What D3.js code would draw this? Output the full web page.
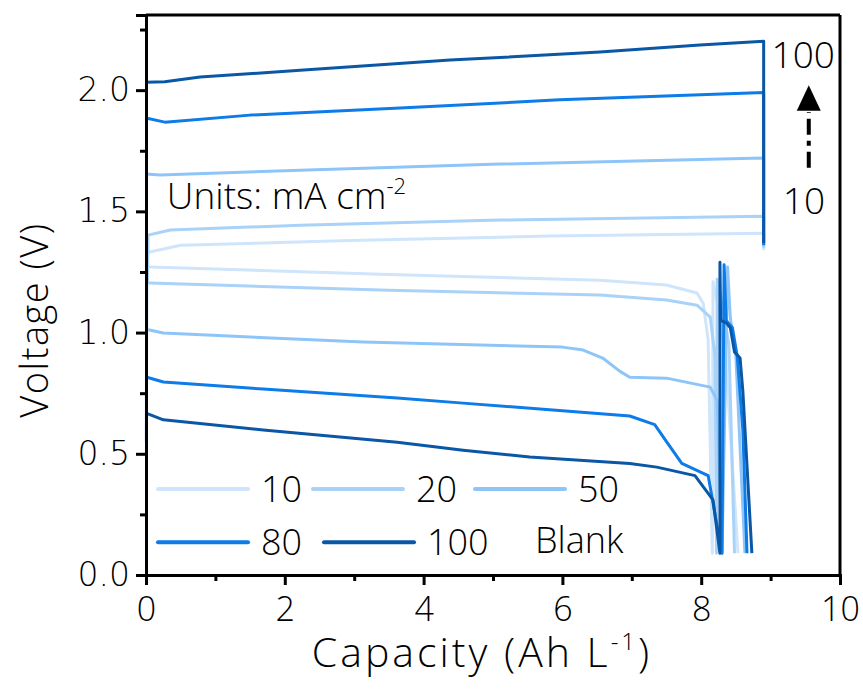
<!DOCTYPE html>
<html>
<head>
<meta charset="utf-8">
<script src="https://cdn.jsdelivr.net/npm/d3@7"></script>
<style>
  body { margin: 0; background: #fff; }
  .lbl { font-family: "Open Sans", "Noto Sans", sans-serif; font-weight: 300; }
  .ytick text { font-family: "DejaVu Sans", sans-serif; font-weight: 200; }
</style>
</head>
<body>
<div id="chart"></div>
<script>
// current densities (mA cm-2)
var seriesNames = ["10", "20", "50", "80", "100"];
var seriesColors = ["#cfe5fb", "#a9d2f8", "#8ec5f8", "#0d7be8", "#0a57a6"];

// charge curves [capacity, voltage]
var charge10 = [[0, 0.55], [0.02, 1.33], [0.5, 1.36], [2.94, 1.38], [5.82, 1.398], [8.9, 1.41], [8.9, 1.34]];
var charge20 = [[0.02, 1.20], [0.03, 1.402], [0.35, 1.423], [2.22, 1.443], [5.1, 1.464], [8.9, 1.48], [8.9, 1.35]];
var charge50 = [[0, 1.654], [0.2, 1.65], [2.22, 1.67], [5.1, 1.695], [8.9, 1.72], [8.9, 1.36]];
var charge80 = [[0, 1.885], [0.27, 1.868], [1.5, 1.897], [3.66, 1.926], [5.96, 1.96], [8.9, 1.99], [8.9, 1.36]];
var charge100 = [[0, 2.033], [0.27, 2.035], [0.78, 2.054], [2.22, 2.082], [4.38, 2.124], [6.54, 2.157], [7.98, 2.186], [8.9, 2.202], [8.9, 1.37]];

// discharge curves [capacity, voltage]
var discharge10 = [[0, 1.27], [0.06, 1.27], [3.5, 1.24], [6.54, 1.216], [7.5, 1.196], [7.94, 1.163], [8.03, 1.12], [8.1, 0.97], [8.16, 0.09],
  [8.17, 1.21], [8.25, 1.1], [8.35, 0.9], [8.53, 0.09]];
var discharge20 = [[0, 1.21], [0.06, 1.204], [3.5, 1.175], [6.54, 1.155], [7.5, 1.134], [7.94, 1.113], [8.13, 1.064], [8.2, 0.9], [8.22, 0.09],
  [8.23, 1.22], [8.3, 1.12], [8.4, 0.95], [8.48, 0.09]];
var discharge50 = [[0, 1.014], [0.25, 0.998], [3.13, 0.961], [6.0, 0.94], [6.3, 0.928], [6.58, 0.895], [6.83, 0.84], [6.97, 0.816], [7.5, 0.812],
  [8.13, 0.775], [8.23, 0.72], [8.3, 0.09], [8.38, 1.27], [8.42, 1.06], [8.5, 0.9], [8.63, 0.09]];
var discharge80 = [[0, 0.817], [0.25, 0.796], [1.69, 0.767], [3.62, 0.73], [4.57, 0.709], [6.97, 0.656], [7.33, 0.62], [7.5, 0.55], [7.72, 0.46],
  [8.1, 0.41], [8.3, 0.09], [8.33, 1.28], [8.36, 1.05], [8.45, 1.02], [8.52, 0.9], [8.6, 0.6], [8.66, 0.09]];
var discharge100 = [[0, 0.668], [0.25, 0.64], [1.69, 0.598], [3.62, 0.548], [4.57, 0.515], [5.53, 0.487], [6.97, 0.46], [7.36, 0.445], [7.91, 0.41],
  [8.17, 0.31], [8.27, 0.09], [8.27, 1.29], [8.28, 1.05], [8.36, 1.04], [8.42, 1.02], [8.48, 0.92], [8.56, 0.895], [8.6, 0.76], [8.73, 0.09]];

var chargeData = [charge10, charge20, charge50, charge80, charge100];
var dischargeData = [discharge10, discharge20, discharge50, discharge80, discharge100];

var xMajor = [0, 2, 4, 6, 8, 10];
var xMinor = [1, 3, 5, 7, 9];
var yMajor = [0, 0.5, 1.0, 1.5, 2.0];
var yMinor = [0.25, 0.75, 1.25, 1.75, 2.25];

var svgWidth = 863;
var svgHeight = 693;

var margin = { top: 15, right: 23, bottom: 118, left: 146 };
var width = svgWidth - margin.left - margin.right;
var height = svgHeight - margin.top - margin.bottom;

var svg = d3.select("#chart")
  .append("svg")
  .attr("width", svgWidth)
  .attr("height", svgHeight);

var chartGroup = svg.append("g")
  .attr("transform", `translate(${margin.left}, ${margin.top})`);

var xScale = d3.scaleLinear().domain([0, 10]).range([0, width]);
var yScale = d3.scaleLinear().domain([0, 2.31]).range([height, 0]);

var line = d3.line()
  .x(d => xScale(d[0]))
  .y(d => yScale(d[1]));

// curves
dischargeData.forEach(function(data, i) {
  chartGroup.append("path")
    .datum(data)
    .attr("d", line)
    .attr("fill", "none")
    .attr("stroke", seriesColors[i])
    .attr("stroke-width", 3)
    .attr("stroke-linejoin", "round");
});
chargeData.forEach(function(data, i) {
  chartGroup.append("path")
    .datum(data)
    .attr("d", line)
    .attr("fill", "none")
    .attr("stroke", seriesColors[i])
    .attr("stroke-width", 3)
    .attr("stroke-linejoin", "round");
});

// frame top & right
chartGroup.append("line")
  .attr("x1", 0).attr("x2", width).attr("y1", 0).attr("y2", 0)
  .attr("stroke", "#000").attr("stroke-width", 3);
chartGroup.append("line")
  .attr("x1", width).attr("x2", width).attr("y1", 0).attr("y2", height)
  .attr("stroke", "#000").attr("stroke-width", 3);

// axes
var bottomAxis = d3.axisBottom(xScale).tickValues(xMajor).tickSize(10).tickPadding(12);
var bottomMinor = d3.axisBottom(xScale).tickValues(xMinor).tickSize(6).tickFormat("");
var leftAxis = d3.axisLeft(yScale).tickValues(yMajor).tickSize(10).tickPadding(6).tickFormat(d3.format(".1f"));
var leftMinor = d3.axisLeft(yScale).tickValues(yMinor).tickSize(6).tickFormat("");

var xg = chartGroup.append("g").attr("transform", `translate(0, ${height})`).call(bottomAxis);
chartGroup.append("g").attr("transform", `translate(0, ${height})`).call(bottomMinor);
var yg = chartGroup.append("g").attr("class", "ytick").call(leftAxis);
chartGroup.append("g").call(leftMinor);

chartGroup.selectAll(".domain").attr("stroke-width", 3).attr("stroke", "#000");
chartGroup.selectAll(".tick line").attr("stroke-width", 3).attr("stroke", "#000");
xg.selectAll("text").attr("class", "lbl").attr("font-size", 34).attr("fill", "#000");
yg.selectAll("text").attr("font-size", 33).attr("fill", "#000");

// axis titles
var xTitle = svg.append("text")
  .attr("class", "lbl")
  .attr("x", 482)
  .attr("y", 667)
  .attr("text-anchor", "middle")
  .attr("letter-spacing", 3)
  .attr("font-size", 41);
xTitle.append("tspan").text("Capacity (Ah L");
xTitle.append("tspan").attr("font-size", 24).attr("dy", -17).text("-1");
xTitle.append("tspan").attr("dy", 17).text(")");

svg.append("text")
  .attr("class", "lbl")
  .attr("transform", "rotate(-90)")
  .attr("x", -320)
  .attr("y", 48)
  .attr("text-anchor", "middle")
  .attr("letter-spacing", 1.5)
  .attr("font-size", 38)
  .text("Voltage (V)");

// annotations
var units = chartGroup.append("text")
  .attr("class", "lbl")
  .attr("x", xScale(0.3))
  .attr("y", yScale(1.5) - 2)
  .attr("font-size", 37);
units.append("tspan").text("Units: mA cm");
units.append("tspan").attr("font-size", 22).attr("dy", -15).text("-2");

chartGroup.append("text")
  .attr("class", "lbl")
  .attr("x", xScale(9.47))
  .attr("y", yScale(2.09))
  .attr("text-anchor", "middle")
  .attr("font-size", 37)
  .text("100");
chartGroup.append("text")
  .attr("class", "lbl")
  .attr("x", xScale(9.48))
  .attr("y", yScale(1.49))
  .attr("text-anchor", "middle")
  .attr("font-size", 37)
  .text("10");

// arrow 10 -> 100
chartGroup.append("line")
  .attr("x1", xScale(9.55)).attr("x2", xScale(9.55))
  .attr("y1", yScale(1.68)).attr("y2", yScale(1.91))
  .attr("stroke", "#000").attr("stroke-width", 4)
  .attr("stroke-dasharray", "16,6,5,6");
chartGroup.append("path")
  .attr("d", `M${xScale(9.55)},${yScale(2.02)} L${xScale(9.55) + 12},${yScale(1.915)} L${xScale(9.55) - 12},${yScale(1.915)} Z`)
  .attr("fill", "#000");

// legend
var legendRows = [
  { names: ["10", "20", "50"], idx: [0, 1, 2], lx: [12, 167, 329], v: 0.355 },
  { names: ["80", "100"], idx: [3, 4], lx: [12, 178], v: 0.135 }
];
legendRows.forEach(function(row) {
  row.names.forEach(function(name, j) {
    var x0 = row.lx[j];
    var yy = yScale(row.v);
    chartGroup.append("line")
      .attr("x1", x0).attr("x2", x0 + 90)
      .attr("y1", yy).attr("y2", yy)
      .attr("stroke", seriesColors[row.idx[j]])
      .attr("stroke-width", 4)
      .attr("stroke-linecap", "round");
    chartGroup.append("text")
      .attr("class", "lbl")
      .attr("x", x0 + 103)
      .attr("y", yy + 13)
      .attr("font-size", 36)
      .text(name);
  });
});
chartGroup.append("text")
  .attr("class", "lbl")
  .attr("x", 389)
  .attr("y", yScale(0.135) + 11)
  .attr("font-size", 36)
  .text("Blank");
</script>
</body>
</html>
